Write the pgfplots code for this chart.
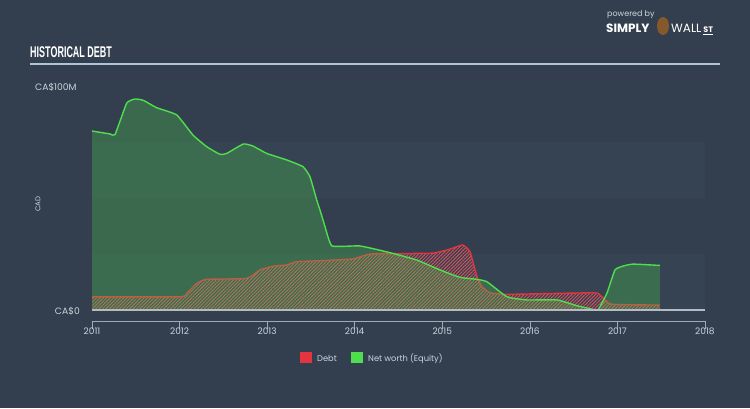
\documentclass[border=0pt]{standalone}
\usepackage{pgfplots}
\usepackage{pgfplotstable}
\pgfplotsset{compat=1.18}
\usepackage{fontspec}
\setmainfont{Poppins}
\newfontfamily\titlefont{Liberation Sans}
\usetikzlibrary{patterns.meta}
\definecolor{bg}{RGB}{51,63,78}
\definecolor{band}{RGB}{54,67,82}
\definecolor{debtred}{RGB}{228,52,64}
\definecolor{eqgreen}{RGB}{78,222,78}
\definecolor{eqfill}{RGB}{76,204,76}
\definecolor{txt}{RGB}{205,212,220}
\definecolor{axisc}{RGB}{160,170,182}
\definecolor{titleline}{RGB}{176,196,216}

\pgfplotstableread{
year value
2011.000 79.9
2011.206 78.6
2011.263 78.3
2011.396 92.3
2011.491 94.2
2011.586 93.6
2011.739 90.3
2011.967 87.1
2012.153 78.1
2012.310 72.9
2012.462 69.5
2012.538 69.9
2012.728 74.1
2012.838 73.2
2012.995 69.9
2013.223 67.0
2013.409 64.0
2013.489 59.5
2013.566 49.1
2013.604 44.6
2013.661 37.2
2013.741 28.6
2014.060 28.6
2014.403 25.6
2014.711 22.3
2014.974 17.9
2015.202 14.6
2015.396 13.7
2015.511 12.6
2015.739 5.9
2015.967 4.5
2016.310 4.5
2016.538 1.9
2016.721 0.3
2016.778 0.0
2016.881 7.6
2016.972 17.9
2017.063 19.6
2017.178 20.5
2017.486 19.9
}\equity

\pgfplotstableread{
year value
2011.000 5.9
2012.005 5.9
2012.081 7.4
2012.196 11.9
2012.310 13.7
2012.767 14.1
2012.918 17.9
2013.070 19.6
2013.223 20.1
2013.338 21.6
2013.604 22.0
2013.980 22.8
2014.175 25.0
2014.517 25.2
2014.894 25.4
2015.054 26.8
2015.168 28.3
2015.237 29.0
2015.317 26.0
2015.396 14.9
2015.453 10.4
2015.545 7.7
2015.739 7.0
2016.721 7.7
2016.801 6.7
2016.881 3.7
2016.949 2.5
2017.486 2.2
}\debt

\begin{document}
\begin{tikzpicture}[x=1pt,y=1pt]
\fill[bg] (0,0) rectangle (750,408);
% title
\node[anchor=base west, inner sep=0, text=white] at (30,350) {\titlefont\bfseries\scalebox{0.58}[1]{\fontsize{15.5}{15.5}\selectfont HISTORICAL DEBT}};
\draw[titleline, line width=1.3pt] (30,344) -- (720,344);
% logo
\node[anchor=base west, inner sep=0, text=txt] at (607,391) {\fontsize{8}{8}\selectfont powered by};
\node[anchor=base west, inner sep=0, text=white] at (606,375) {\fontsize{12}{12}\selectfont\bfseries SIMPLY};
\fill[brown!70!black] (663,382) ellipse (6 and 9);
\node[anchor=base west, inner sep=0, text=white] at (671,375) {\fontsize{12}{12}\selectfont WALL\,\underline{\fontsize{8}{8}\selectfont\bfseries ST}};
% y labels
\node[anchor=base west, inner sep=0, text=txt] at (35,318) {\fontsize{9.2}{9}\selectfont CA\$100M};
\node[anchor=base east, inner sep=0, text=txt] at (80,94) {\fontsize{9.2}{9}\selectfont CA\$0};
\node[rotate=90, inner sep=0, text=txt] at (38,204) {\fontsize{7}{7}\selectfont CAD};
% legend
\fill[debtred] (300,45) rectangle (312,56);
\node[anchor=base west, inner sep=0, text=txt] at (317,47) {\fontsize{8.3}{8}\selectfont Debt};
\fill[eqgreen] (351,45) rectangle (363,56);
\node[anchor=base west, inner sep=0, text=txt] at (368,47) {\fontsize{8.3}{8}\selectfont Net worth (Equity)};

\begin{axis}[
  at={(92pt,87pt)}, anchor=south west,
  width=613pt, height=235pt, scale only axis,
  xmin=2011, xmax=2018, ymin=-4.9, ymax=100,
  axis x line=bottom, axis y line=none,
  axis line style={axisc, line width=0.6pt, -},
  xtick={2011,...,2018}, ytick=\empty,
  xtick align=outside, major tick length=8pt,
  tick style={axisc, line width=0.6pt},
  x tick label style={text=txt, font=\fontsize{9}{9}\selectfont, yshift=5pt},
  /pgf/number format/1000 sep={},
  /pgf/number format/assume math mode=true,
  clip=false,
]
% bands
\fill[band] (axis cs:2011,0) rectangle (axis cs:2018,25);
\fill[band] (axis cs:2011,50) rectangle (axis cs:2018,75);
% debt
\addplot[draw=none, pattern={Lines[angle=45,distance=2.4pt,line width=0.8pt]}, pattern color=debtred!85!white, smooth, tension=0.25] table[x=year,y=value] {\debt} \closedcycle;
\addplot[debtred, line width=1.4pt, smooth, tension=0.25] table[x=year,y=value] {\debt};
% equity
\addplot[draw=none, fill=eqfill, fill opacity=0.3, smooth, tension=0.25] table[x=year,y=value] {\equity} \closedcycle;
\addplot[eqgreen, line width=1.4pt, smooth, tension=0.25] table[x=year,y=value] {\equity};
% zero line
\draw[axisc!80!white, line width=1.6pt] (axis cs:2011,0) -- (axis cs:2018,0);
\end{axis}
\pgfresetboundingbox
\path[use as bounding box] (0,0) rectangle (750,408);
\end{tikzpicture}
\end{document}
